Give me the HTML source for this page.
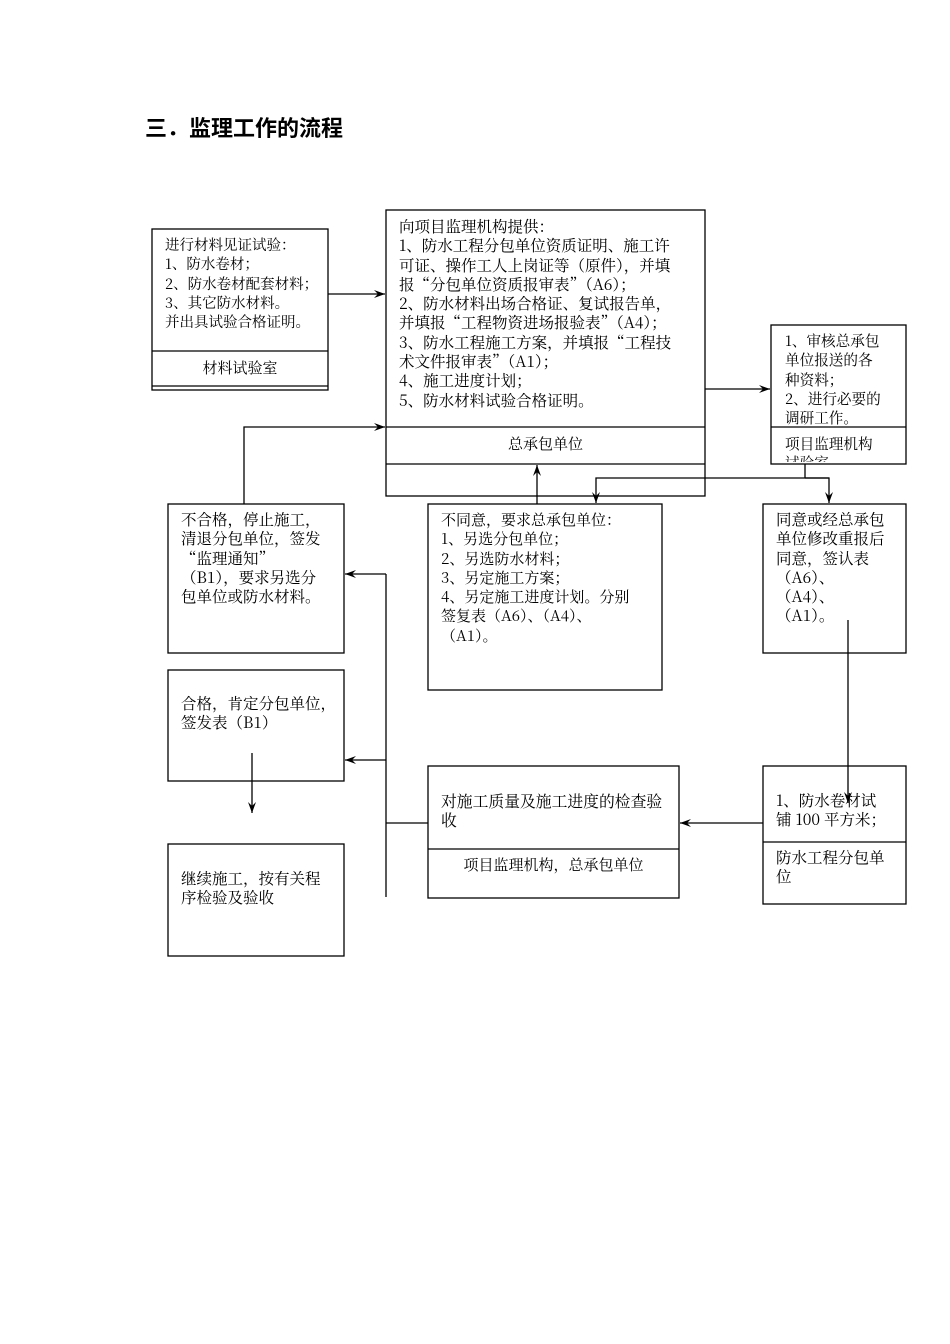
<!DOCTYPE html>
<html><head><meta charset="utf-8"><style>
body{margin:0;background:#fff;width:950px;height:1344px;position:relative;overflow:hidden}
.t{position:absolute;font-family:"Noto Serif CJK SC","Liberation Serif",serif;font-size:15px;line-height:19.3px;color:#000;white-space:nowrap}
h1{position:absolute;left:145px;top:115px;margin:0;font-family:"Liberation Sans","Noto Sans CJK SC",sans-serif;font-size:22px;line-height:28px;font-weight:bold}
svg{position:absolute;left:0;top:0}
</style></head><body>
<h1>三．监理工作的流程</h1>
<svg width="950" height="1344" viewBox="0 0 950 1344">
<defs><marker id="a" markerWidth="12" markerHeight="8" refX="11" refY="4" orient="auto" markerUnits="userSpaceOnUse"><path d="M0,0 L11,4 L0,8 L4,4Z" fill="#000"/></marker></defs>
<g fill="none" stroke="#000" stroke-width="1.3">
<rect x="152" y="229" width="176" height="161"/><line x1="152" y1="351" x2="328" y2="351"/><line x1="152" y1="386" x2="328" y2="386"/>
<rect x="386" y="210" width="319" height="286"/><line x1="386" y1="427" x2="705" y2="427"/><line x1="386" y1="464" x2="705" y2="464"/>
<rect x="771" y="325" width="135" height="139"/><line x1="771" y1="427" x2="906" y2="427"/>
<rect x="168" y="504" width="176" height="149"/>
<rect x="428" y="504" width="234" height="186"/>
<rect x="763" y="504" width="143" height="149"/>
<rect x="168" y="670" width="176" height="111"/>
<rect x="168" y="844" width="176" height="112"/>
<rect x="428" y="766" width="251" height="132"/><line x1="428" y1="849" x2="679" y2="849"/>
<rect x="763" y="766" width="143" height="138"/><line x1="763" y1="842" x2="906" y2="842"/>
<line x1="328" y1="294" x2="385" y2="294" marker-end="url(#a)"/>
<polyline points="244,504 244,427 385,427" marker-end="url(#a)"/>
<line x1="705" y1="389" x2="770" y2="389" marker-end="url(#a)"/>
<line x1="537" y1="504" x2="537" y2="465" marker-end="url(#a)"/>
<line x1="805" y1="464" x2="805" y2="478"/>
<polyline points="829,478 596,478 596,503" marker-end="url(#a)"/>
<polyline points="805,478 829,478 829,503" marker-end="url(#a)"/>
<line x1="848" y1="620" x2="848" y2="803" marker-end="url(#a)"/>
<line x1="763" y1="823" x2="680" y2="823" marker-end="url(#a)"/>
<polyline points="428,823 386,823"/>
<line x1="386" y1="574" x2="386" y2="897"/>
<line x1="386" y1="574" x2="345" y2="574" marker-end="url(#a)"/>
<line x1="386" y1="760" x2="345" y2="760" marker-end="url(#a)"/>
<line x1="252" y1="753" x2="252" y2="813" marker-end="url(#a)"/>
</g></svg>
<div class="t" style="left:165px;top:235px;font-size:14.5px">进行材料见证试验：<br>1、防水卷材；<br>2、防水卷材配套材料；<br>3、其它防水材料。<br>并出具试验合格证明。</div>
<div class="t" style="left:152px;top:358px;width:176px;text-align:center">材料试验室</div>
<div class="t" style="left:399px;top:217px;font-size:15.5px">向项目监理机构提供：<br>1、防水工程分包单位资质证明、施工许<br>可证、操作工人上岗证等（原件），并填<br>报“分包单位资质报审表”（A6）；<br>2、防水材料出场合格证、复试报告单，<br>并填报“工程物资进场报验表”（A4）；<br>3、防水工程施工方案，并填报“工程技<br>术文件报审表”（A1）；<br>4、施工进度计划；<br>5、防水材料试验合格证明。</div>
<div class="t" style="left:386px;top:434px;width:319px;text-align:center">总承包单位</div>
<div class="t" style="left:785px;top:331px;font-size:14.6px">1、审核总承包<br>单位报送的各<br>种资料；<br>2、进行必要的<br>调研工作。</div>
<div class="t" style="left:785px;top:434px;height:28px;overflow:hidden;font-size:14.6px">项目监理机构<br>试验室</div>
<div class="t" style="left:181px;top:510px;font-size:15.5px">不合格，停止施工，<br>清退分包单位，签发<br>“监理通知”<br>（B1），要求另选分<br>包单位或防水材料。</div>
<div class="t" style="left:441px;top:510px">不同意，要求总承包单位：<br>1、另选分包单位；<br>2、另选防水材料；<br>3、另定施工方案；<br>4、另定施工进度计划。分别<br>签复表（A6）、（A4）、<br>（A1）。</div>
<div class="t" style="left:776px;top:510px;font-size:15.5px">同意或经总承包<br>单位修改重报后<br>同意，签认表<br>（A6）、<br>（A4）、<br>（A1）。</div>
<div class="t" style="left:181px;top:694px;font-size:15.5px">合格，肯定分包单位，<br>签发表（B1）</div>
<div class="t" style="left:181px;top:869px;font-size:15.5px">继续施工，按有关程<br>序检验及验收</div>
<div class="t" style="left:441px;top:791px;font-size:15.8px">对施工质量及施工进度的检查验<br>收</div>
<div class="t" style="left:428px;top:855px;width:251px;text-align:center">项目监理机构，总承包单位</div>
<div class="t" style="left:776px;top:791px;font-size:15.5px">1、防水卷材试<br>铺 100 平方米；</div>
<div class="t" style="left:776px;top:848px;font-size:15.5px">防水工程分包单<br>位</div>
</body></html>
